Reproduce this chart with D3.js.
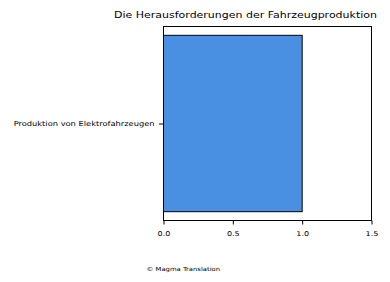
<!DOCTYPE html>
<html>
<head>
<meta charset="utf-8">
<script src="https://cdn.jsdelivr.net/npm/d3@7"></script>
<style>
  html, body { margin: 0; padding: 0; background: #fff; }
  svg { display: block; }
  text { font-family: "DejaVu Sans", sans-serif; fill: #000; }
</style>
</head>
<body>
<svg id="chart" width="390" height="282"></svg>
<script>
// Chart data
const categories = ["Produktion von Elektrofahrzeugen"];
const values = [1.0];
const xTicks = [0.0, 0.5, 1.0, 1.5];
const titleText = "Die Herausforderungen der Fahrzeugproduktion";
const creditText = "© Magma Translation";

// Text is drawn slightly wide to suit the figure's aspect
const stretch = 1.22;
function widen(sel) {
  sel.each(function () {
    const w = this.getComputedTextLength();
    d3.select(this).attr("textLength", w * stretch).attr("lengthAdjust", "spacingAndGlyphs");
  });
}

const svg = d3.select("#chart");
const plot = { left: 163.5, right: 371.5, top: 26.5, bottom: 220.5 };

const x = d3.scaleLinear().domain([0, 1.5]).range([plot.left, plot.right]);
// Bar occupies 0.8 of a unit band, padded by 5% of its extent on each side
const y = d3.scaleLinear().domain([-0.44, 0.44]).range([plot.bottom, plot.top]);

// Bars
svg.append("g")
  .selectAll("rect")
  .data(values)
  .join("rect")
  .attr("x", x(0))
  .attr("y", (d, i) => y(i + 0.4))
  .attr("width", d => x(d) - x(0))
  .attr("height", (d, i) => y(i - 0.4) - y(i + 0.4))
  .attr("fill", "#4a90e2")
  .attr("stroke", "#000")
  .attr("stroke-width", 1);

// Frame
svg.append("rect")
  .attr("x", plot.left).attr("y", plot.top)
  .attr("width", plot.right - plot.left)
  .attr("height", plot.bottom - plot.top)
  .attr("fill", "none").attr("stroke", "#000").attr("stroke-width", 1);

// X axis
const xAxis = d3.axisBottom(x)
  .tickValues(xTicks)
  .tickFormat(d3.format(".1f"))
  .tickSize(4)
  .tickPadding(6.5);
const gx = svg.append("g")
  .attr("transform", `translate(0,${plot.bottom})`)
  .call(xAxis);
gx.select(".domain").remove();
gx.attr("font-family", null);
gx.selectAll("text").attr("font-size", 6.6).call(widen);
gx.selectAll("line").attr("stroke", "#000");

// Y axis (category)
const yAxis = d3.axisLeft(y)
  .tickValues(categories.map((c, i) => i))
  .tickFormat(i => categories[i])
  .tickSize(4.5)
  .tickPadding(4.5);
const gy = svg.append("g")
  .attr("transform", `translate(${plot.left},0)`)
  .call(yAxis);
gy.select(".domain").remove();
gy.attr("font-family", null);
gy.selectAll("text").attr("font-size", 6.8).attr("dy", "0.36em").call(widen);
gy.selectAll("line").attr("stroke", "#000");

// Title
svg.append("text")
  .attr("x", 245.5)
  .attr("y", 17.5)
  .attr("text-anchor", "middle")
  .attr("font-size", 9)
  .text(titleText)
  .call(widen);

// Credit
svg.append("text")
  .attr("x", 146.5)
  .attr("y", 270.5)
  .attr("font-size", 5.6)
  .text(creditText)
  .call(widen);
</script>
</body>
</html>
